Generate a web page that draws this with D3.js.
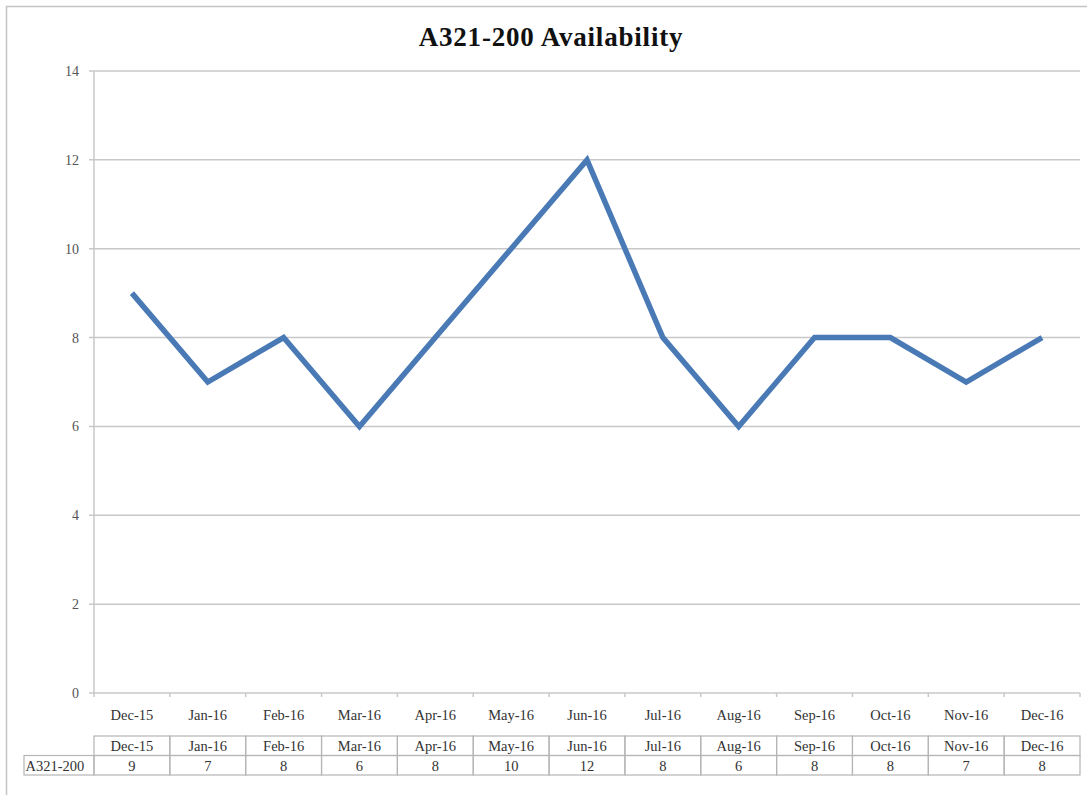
<!DOCTYPE html>
<html><head><meta charset="utf-8">
<script src="https://cdn.jsdelivr.net/npm/d3@7"></script>
<style>body{margin:0;background:#fff}svg{display:block}text{font-family:"Liberation Serif","Times New Roman",serif}</style>
</head><body>
<script>
const categories = ["Dec-15","Jan-16","Feb-16","Mar-16","Apr-16","May-16","Jun-16","Jul-16","Aug-16","Sep-16","Oct-16","Nov-16","Dec-16"];
const seriesName = "A321-200";
const values = [9,7,8,6,8,10,12,8,6,8,8,7,8];
const yTicks = [0,2,4,6,8,10,12,14];
const title = "A321-200 Availability";

const W = 1087, H = 795;
const m = {left:94, right:1080, top:71, bottom:693};
const svg = d3.select("body").append("svg").attr("width",W).attr("height",H);

svg.append("rect").attr("x",6.5).attr("y",6.5).attr("width",1100).attr("height",1000)
  .attr("fill","none").attr("stroke","#c4c4c4").attr("stroke-width",1.5);

svg.append("text").attr("x",551).attr("y",46).attr("text-anchor","middle")
  .attr("font-size",27).attr("font-weight","bold").attr("letter-spacing",0.8).attr("fill","#111").text(title);

const x = d3.scaleBand().domain(categories).range([m.left,m.right]);
const y = d3.scaleLinear().domain([0,14]).range([m.bottom,m.top]);

svg.append("g").selectAll("line").data(yTicks).join("line")
  .attr("x1",m.left-5).attr("x2",m.right).attr("y1",d=>y(d)).attr("y2",d=>y(d))
  .attr("stroke","#c8c8c8").attr("stroke-width",1.5);
svg.append("line").attr("x1",m.left).attr("x2",m.left).attr("y1",m.top).attr("y2",m.bottom)
  .attr("stroke","#c8c8c8").attr("stroke-width",1.5);
svg.append("g").selectAll("text").data(yTicks).join("text")
  .attr("x",m.left-15).attr("y",d=>y(d)+5).attr("text-anchor","end")
  .attr("font-size",14).attr("fill","#555").text(d=>d);

const bounds = categories.map(c=>x(c)).concat([m.right]);
svg.append("g").selectAll("line").data(bounds).join("line")
  .attr("x1",d=>d).attr("x2",d=>d).attr("y1",m.bottom).attr("y2",m.bottom+4)
  .attr("stroke","#c8c8c8").attr("stroke-width",1.5);
svg.append("g").selectAll("text").data(categories).join("text")
  .attr("x",d=>x(d)+x.bandwidth()/2).attr("y",720).attr("text-anchor","middle")
  .attr("font-size",14.5).attr("fill","#333").text(d=>d);

const line = d3.line().x((d,i)=>x(categories[i])+x.bandwidth()/2).y(d=>y(d));
svg.append("path").datum(values).attr("d",line).attr("fill","none")
  .attr("stroke","#4a7ab5").attr("stroke-width",5.5).attr("stroke-linejoin","miter");

const tTop = 736, rowH = 19.5, labelLeft = 24;
const tg = svg.append("g");
const gridC = "#b5b5b5";
tg.selectAll("rect.h").data(categories).join("rect")
  .attr("x",d=>x(d)).attr("y",tTop).attr("width",x.bandwidth()).attr("height",rowH)
  .attr("fill","none").attr("stroke",gridC).attr("stroke-width",1.2);
tg.selectAll("rect.v").data(categories).join("rect")
  .attr("x",d=>x(d)).attr("y",tTop+rowH).attr("width",x.bandwidth()).attr("height",rowH)
  .attr("fill","none").attr("stroke",gridC).attr("stroke-width",1.2);
tg.append("rect").attr("x",labelLeft).attr("y",tTop+rowH).attr("width",m.left-labelLeft).attr("height",rowH)
  .attr("fill","none").attr("stroke",gridC).attr("stroke-width",1.2);
tg.selectAll("text.h").data(categories).join("text")
  .attr("x",d=>x(d)+x.bandwidth()/2).attr("y",tTop+15).attr("text-anchor","middle")
  .attr("font-size",14.5).attr("fill","#333").text(d=>d);
tg.selectAll("text.v").data(values).join("text")
  .attr("x",(d,i)=>x(categories[i])+x.bandwidth()/2).attr("y",tTop+rowH+15).attr("text-anchor","middle")
  .attr("font-size",14.5).attr("fill","#333").text(d=>d);
tg.append("text").attr("x",labelLeft+1.5).attr("y",tTop+rowH+15)
  .attr("font-size",14.5).attr("fill","#333").text(seriesName);
</script>
</body></html>
